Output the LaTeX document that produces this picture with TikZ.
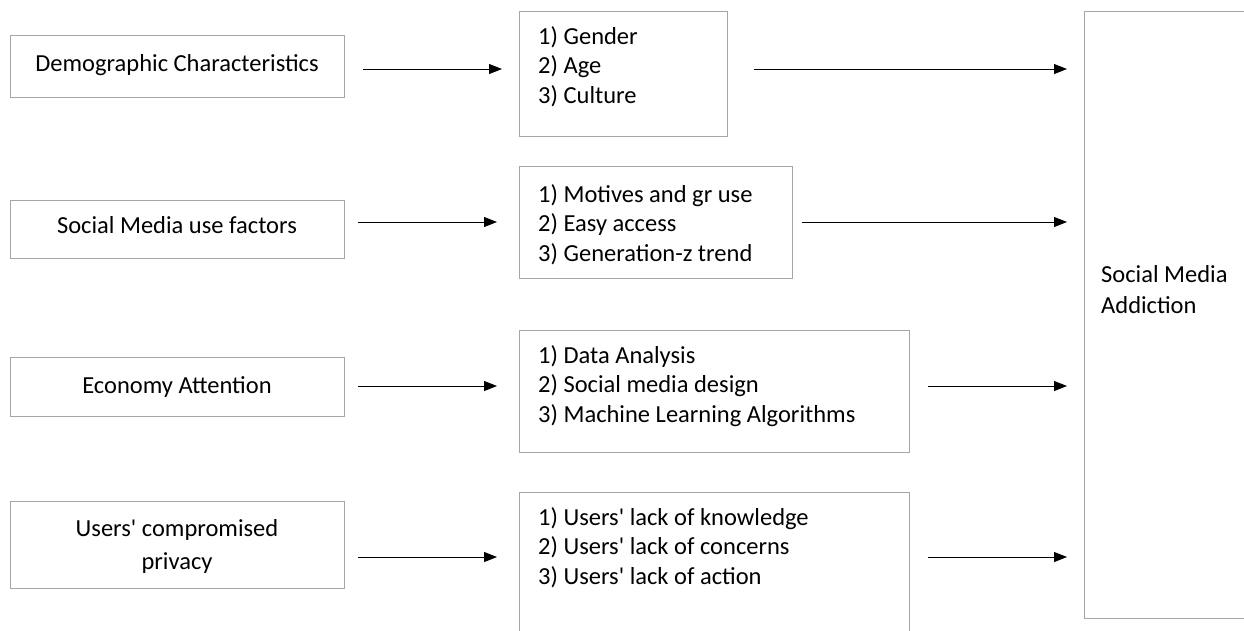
\documentclass[tikz,border=0pt]{standalone}
\usepackage{fontspec}
\setmainfont{Carlito}[Ligatures=TeXOff]
\usetikzlibrary{arrows.meta}
\definecolor{boxgray}{HTML}{A6A6A6}
\tikzset{
  frame/.style={draw=boxgray, line width=1.4pt, rectangle, inner sep=0pt, anchor=north west},
  lefttext/.style={font=\fontsize{24.5}{33}\selectfont, align=center, inner sep=0pt, anchor=base},
  listtext/.style={font=\fontsize{24.5}{29.5}\selectfont, align=left, inner sep=0pt, anchor=base west},
  righttext/.style={font=\fontsize{24.5}{30.5}\selectfont, align=left, inner sep=0pt, anchor=base west},
  arr/.style={draw=black, line width=0.9pt, -{Triangle[length=13pt,width=10pt]}}
}
\begin{document}
\begin{tikzpicture}[x=1pt,y=-1pt]
\useasboundingbox (0,0) rectangle (1244,630);
% left boxes
\node[frame, minimum width=334pt, minimum height=62pt] (l1) at (10,35) {};
\node[frame, minimum width=334pt, minimum height=58pt] (l2) at (10,200) {};
\node[frame, minimum width=334pt, minimum height=59pt] (l3) at (10,357) {};
\node[frame, minimum width=334pt, minimum height=87pt] (l4) at (10,501) {};
\node[lefttext] (t1) at (177,71) {Demographic Characteristics};
\node[lefttext] (t2) at (177,233) {Social Media use factors};
\node[lefttext] (t3) at (177,393) {Economy Attention};
\node[lefttext] (t4) at (177,569) {Users' compromised\\privacy};
% middle boxes
\node[frame, minimum width=208pt, minimum height=125pt] (m1) at (519,11) {};
\node[frame, minimum width=273pt, minimum height=112pt] (m2) at (519,166) {};
\node[frame, minimum width=390pt, minimum height=122pt] (m3) at (519,330) {};
\node[frame, minimum width=390pt, minimum height=150pt] (m4) at (519,492) {};
\node[listtext] (u1) at (538,103) {1) Gender\\2) Age\\3) Culture};
\node[listtext] (u2) at (538,261) {1) Motives and gr use\\2) Easy access\\3) Generation-z trend};
\node[listtext] (u3) at (538,422) {1) Data Analysis\\2) Social media design\\3) Machine Learning Algorithms};
\node[listtext] (u4) at (538,584) {1) Users' lack of knowledge\\2) Users' lack of concerns\\3) Users' lack of action};
% right box
\node[frame, minimum width=170pt, minimum height=607pt] (r) at (1084,11) {};
\node[righttext] (rt) at (1101,313) {Social Media\\Addiction};
% arrow coordinates
\coordinate (a1s) at (363,69);  \coordinate (a1e) at (502,69);
\coordinate (a2s) at (358,222); \coordinate (a2e) at (497,222);
\coordinate (a3s) at (358,386); \coordinate (a3e) at (497,386);
\coordinate (a4s) at (358,557); \coordinate (a4e) at (497,557);
\coordinate (b1s) at (754,69);  \coordinate (b1e) at (1067,69);
\coordinate (b2s) at (802,222); \coordinate (b2e) at (1067,222);
\coordinate (b3s) at (928,386); \coordinate (b3e) at (1067,386);
\coordinate (b4s) at (928,557); \coordinate (b4e) at (1067,557);
\foreach \i in {1,2,3,4} {
  \draw[arr] (a\i s) -- (a\i e);
  \draw[arr] (b\i s) -- (b\i e);
}
\end{tikzpicture}
\end{document}
